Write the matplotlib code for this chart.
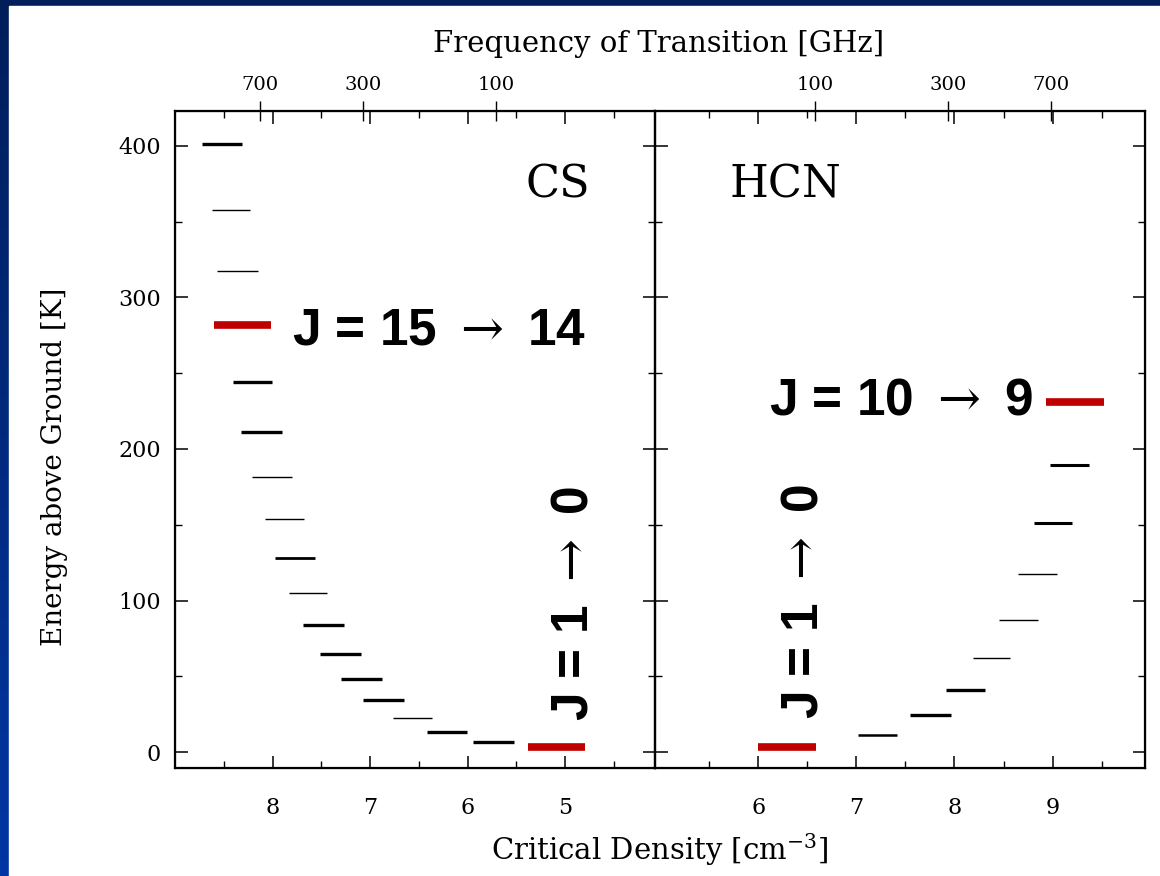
import numpy as np
import matplotlib
matplotlib.use('Agg')
import matplotlib.pyplot as plt
from matplotlib.colors import LinearSegmentedColormap
from matplotlib.patches import Rectangle

# CS rotational levels J = 1 .. 18
cs_energy = [3.3, 6.6, 13.2, 22.4, 34.3, 48, 64.7, 84, 105, 128,
             154, 181.5, 211, 244, 282, 317.5, 358, 401]
cs_ncrit_lo = [4.80, 5.53, 6.01, 6.37, 6.65, 6.88, 7.09, 7.27, 7.44, 7.57,
               7.68, 7.80, 7.90, 8.01, 8.02, 8.15, 8.23, 8.31]
cs_ncrit_hi = [5.38, 5.95, 6.42, 6.77, 7.07, 7.30, 7.51, 7.69, 7.83, 7.97,
               8.08, 8.21, 8.32, 8.41, 8.60, 8.57, 8.62, 8.72]

# HCN rotational levels J = 1 .. 10
hcn_energy = [3.3, 11.2, 24.4, 41, 62, 87, 117.5, 151, 189.4, 231]
hcn_ncrit_lo = [6.00, 7.02, 7.55, 7.91, 8.19, 8.45, 8.65, 8.81, 8.97, 8.93]
hcn_ncrit_hi = [6.59, 7.41, 7.96, 8.31, 8.57, 8.85, 9.04, 9.20, 9.37, 9.52]

freq_ticks = [100, 300, 700]
density_ticks_cs = [5, 6, 7, 8]
density_ticks_hcn = [6, 7, 8, 9]
energy_ticks = [0, 100, 200, 300, 400]

# highlighted transitions (index into the level lists) and line weights
cs_red = [0, 14]
hcn_red = [0, 9]
cs_lw = [2.4, 2.4, 2.4, 1.0, 2.4, 2.4, 2.4, 2.4, 1.0, 2.0,
         1.0, 1.0, 2.4, 2.4, 2.4, 1.0, 1.0, 2.4]
hcn_lw = [2.4, 1.8, 2.4, 2.4, 1.0, 1.0, 1.0, 2.2, 2.2, 2.4]

RED = '#c00000'
SERIF = 'DejaVu Serif'
plt.rcParams['mathtext.fontset'] = 'dejavuserif'

fig = plt.figure(figsize=(11.6, 8.76), dpi=100)

# blue slide background with white panel
bg = fig.add_axes([0, 0, 1, 1], zorder=-10)
cmap = LinearSegmentedColormap.from_list('slide', ['#0036a3', '#001e5a'])
bg.imshow(np.linspace(0, 1, 256).reshape(-1, 1), aspect='auto', cmap=cmap,
          extent=[0, 1, 0, 1], origin='lower')
bg.add_patch(Rectangle((9 / 1160, 0), 1, 870 / 876, color='white'))
bg.set_xlim(0, 1)
bg.set_ylim(0, 1)
bg.axis('off')

y0 = 1 - 768 / 876
h = (768 - 111) / 876
ax1 = fig.add_axes([175 / 1160, y0, 480 / 1160, h])
ax2 = fig.add_axes([655 / 1160, y0, 490 / 1160, h])


def draw_levels(ax, energy, lo, hi, lws, red):
    for i in range(len(energy)):
        if i in red:
            ax.hlines(energy[i], lo[i], hi[i], color=RED, lw=5.5, zorder=3)
        else:
            ax.hlines(energy[i], lo[i], hi[i], color='black', lw=lws[i])


draw_levels(ax1, cs_energy, cs_ncrit_lo, cs_ncrit_hi, cs_lw, cs_red)
draw_levels(ax2, hcn_energy, hcn_ncrit_lo, hcn_ncrit_hi, hcn_lw, hcn_red)

ax1.set_xlim(9.0, 4.08)
ax2.set_xlim(4.95, 9.94)
ax1.set_xticks(density_ticks_cs)
ax1.set_xticks(np.arange(4.5, 9.0, 1.0), minor=True)
ax2.set_xticks(density_ticks_hcn)
ax2.set_xticks(np.arange(5.5, 10.0, 1.0), minor=True)

for ax in (ax1, ax2):
    ax.set_ylim(-10.5, 423)
    ax.set_yticks(energy_ticks)
    ax.set_yticks(np.arange(50, 420, 100), minor=True)
    for s in ax.spines.values():
        s.set_linewidth(1.6)

# frequency axes on top
f1 = ax1.twiny()
f1.set_xscale('log')
f1.set_xlim(1416, 27)
f2 = ax2.twiny()
f2.set_xscale('log')
f2.set_xlim(26.7, 1524)
for f in (f1, f2):
    f.set_xticks(freq_ticks)
    f.set_xticklabels([str(v) for v in freq_ticks])
    f.xaxis.set_minor_locator(matplotlib.ticker.NullLocator())
    f.tick_params(axis='x', direction='inout', length=14, width=1.0,
                  pad=5, labelsize=14)
    for lab in f.get_xticklabels():
        lab.set_family(SERIF)

for ax in (ax1, ax2):
    ax.tick_params(which='both', direction='in', top=True, bottom=True,
                   left=True, right=True, labeltop=False)
    ax.tick_params(which='major', length=9, width=1.1)
    ax.tick_params(which='minor', length=5, width=1.0)
    ax.tick_params(axis='x', which='major', labelsize=16, pad=21)
    ax.tick_params(axis='y', which='major', labelsize=16, pad=10)
    for lab in ax.get_xticklabels() + ax.get_yticklabels():
        lab.set_family(SERIF)
ax2.tick_params(axis='y', labelleft=False)

# molecule names and transition labels
ax1.text(0.798, 0.887, 'CS', transform=ax1.transAxes, ha='center',
         va='center', fontsize=32, family=SERIF)
ax2.text(0.267, 0.887, 'HCN', transform=ax2.transAxes, ha='center',
         va='center', fontsize=32, family=SERIF)

bold = dict(fontsize=37, fontweight='bold',
            family=['Liberation Sans', 'DejaVu Sans'])
ax1.text(0.244, 0.665, r'J = 15 $\rightarrow$ 14', transform=ax1.transAxes,
         ha='left', va='center', **bold)
ax2.text(0.233, 0.559, r'J = 10 $\rightarrow$ 9', transform=ax2.transAxes,
         ha='left', va='center', **bold)
ax1.text(0.832, 0.251, r'J = 1 $\rightarrow$ 0', transform=ax1.transAxes,
         ha='center', va='center', rotation=90, **bold)
ax2.text(0.305, 0.253, r'J = 1 $\rightarrow$ 0', transform=ax2.transAxes,
         ha='center', va='center', rotation=90, **bold)

fig.text(659 / 1160, 1 - 44 / 876, 'Frequency of Transition [GHz]',
         ha='center', va='center', fontsize=21, family=SERIF)
fig.text(660 / 1160, 1 - 850 / 876, 'Critical Density [cm$^{-3}$]',
         ha='center', va='center', fontsize=21, family=SERIF)
fig.text(55 / 1160, 1 - 467 / 876, 'Energy above Ground [K]',
         ha='center', va='center', rotation=90, fontsize=20, family=SERIF)

fig.savefig('out.png', dpi=100)
